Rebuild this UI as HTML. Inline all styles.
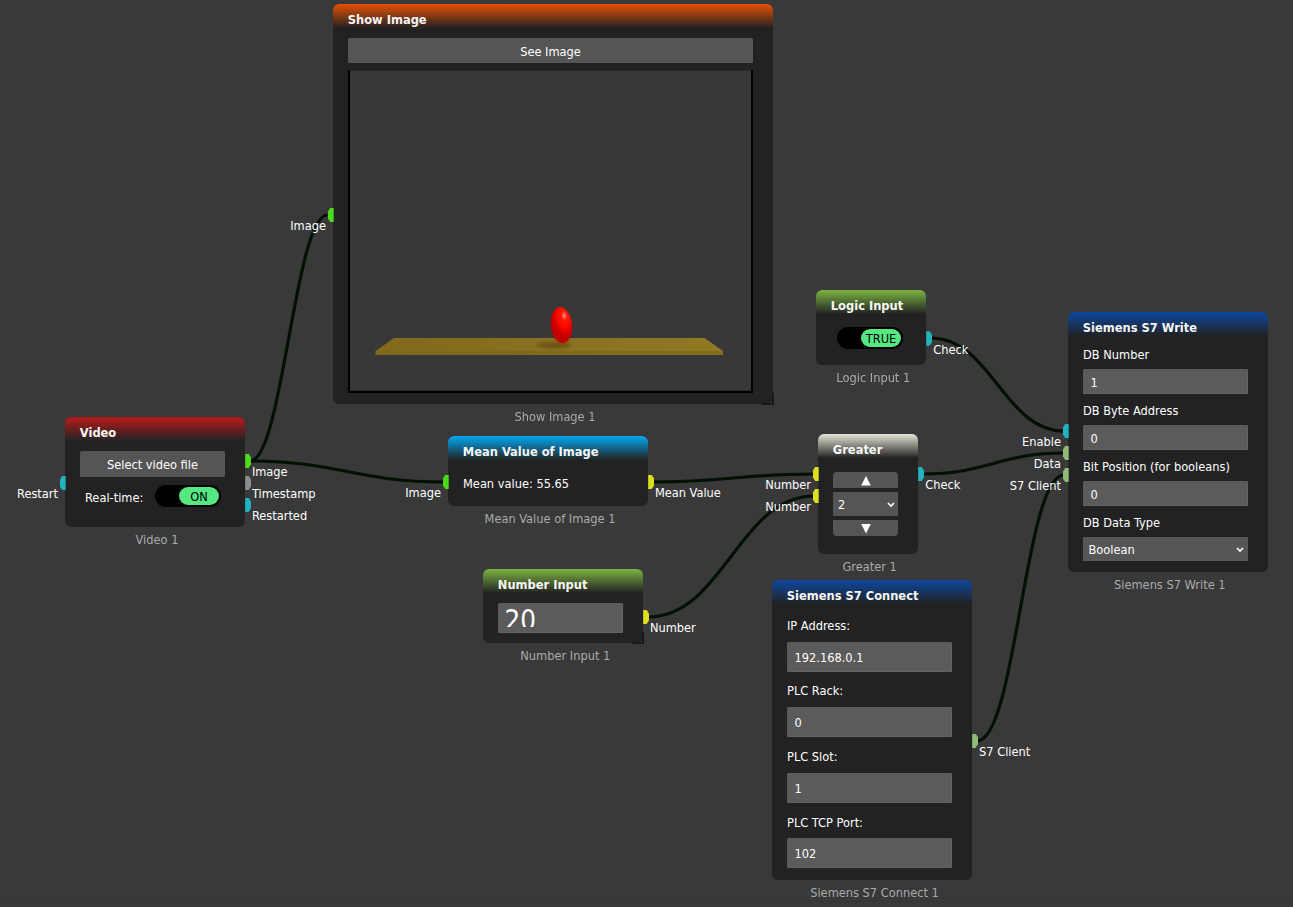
<!DOCTYPE html>
<html><head><meta charset="utf-8"><title>Node editor</title>
<style>
*{box-sizing:border-box;margin:0;padding:0}
html,body{width:1293px;height:907px;overflow:hidden;background:#393939}
body{position:relative;font-family:"DejaVu Sans Condensed","DejaVu Sans","Liberation Sans",sans-serif;font-stretch:condensed;font-size:12.7px;color:#fff}
.wires{position:absolute;left:0;top:0;width:1293px;height:907px}
.wires path{fill:none;stroke:#031003;stroke-width:3.2px}
.node{position:absolute;background:#222;border-radius:6px}
.hd{position:absolute;left:0;top:0;right:0;height:24px;border-radius:6px 6px 0 0}
.ti{position:absolute;font-weight:bold;font-size:12.75px;line-height:16px;color:#f6f6f6;white-space:nowrap}
.red{background:linear-gradient(#b71c1c,#222)}
.orange{background:linear-gradient(#e65100,#222)}
.lblue{background:linear-gradient(#03a9f4,#222)}
.green{background:linear-gradient(#7cb342,#222)}
.cream{background:linear-gradient(#e6e6d6,#222)}
.dblue{background:linear-gradient(#0d47a1,#222)}
.t{position:absolute;white-space:nowrap;line-height:16px}
.r{text-align:right}
.cap{position:absolute;white-space:nowrap;line-height:16px;color:#aaa;text-align:center}
.btn{position:absolute;background:#555;border-radius:1.5px;text-align:center;white-space:nowrap}
.inp{position:absolute;background:#5b5b5b;border-radius:1.5px;box-shadow:inset -1px -1px 0 #636363;white-space:nowrap}
.po{position:absolute;width:6px;height:14.5px;clip-path:polygon(0 0,50% 0,60% 3%,92% 22%,100% 33%,100% 67%,92% 78%,60% 97%,50% 100%,0 100%)}
.pi{position:absolute;width:6px;height:14.5px;clip-path:polygon(100% 0,50% 0,40% 3%,8% 22%,0 33%,0 67%,8% 78%,40% 97%,50% 100%,100% 100%)}
.g{background:#4cd91c}.gy{background:#8c8c8c}.tl{background:#20b2c0}.y{background:#dede20}.pg{background:#8fbc74}
.tog{position:absolute;background:#000;border-radius:12px}
.tog b{position:absolute;background:#54e782;border-radius:10px;color:#000;font-weight:normal;text-align:center}
.rs{position:absolute;width:12px;height:12px;background:#222;border-right:2px solid #181818;border-bottom:2px solid #181818}.rs:after{content:"";position:absolute;right:0;bottom:0;width:1px;height:1px;background:#4a4a4a}
</style></head><body>
<svg class="wires" viewBox="0 0 1293 907">
<path d="M250 461 C282.6 461 294.9 215 327.5 215"/>
<path d="M250 461 C337.3 461 356.7 482 444 482"/>
<path d="M653 482 C725.5 482 741.5 474 814 474"/>
<path d="M648 617 C722.7 617 739.3 496 814 496"/>
<path d="M931 338 C990.9 338 1004.1 431 1064 431"/>
<path d="M923 474 C986.5 474 1000.5 453 1064 453"/>
<path d="M977 741 C1016.1 741 1024.8 475 1064 475"/>
</svg>
<div class="node" style="left:65px;top:417px;width:180px;height:110px"><div class="hd red"></div><div class="ti" style="left:14.8px;top:7.5px">Video</div><div class="btn" style="left:15px;top:34px;width:145px;height:26px;line-height:28px">Select video file</div><div class="t" style="left:20px;top:73px">Real-time:</div><div class="tog" style="left:90px;top:68px;width:66px;height:22px"><b style="left:24px;top:2px;width:40px;height:18px;line-height:20px">ON</b></div></div>
<div class="pi tl" style="left:59.7px;top:475.75px"></div>
<div class="t r" style="left:-142px;width:200px;top:486.0px">Restart</div>
<div class="po g" style="left:245.2px;top:453.75px"></div>
<div class="po gy" style="left:245.2px;top:475.75px"></div>
<div class="po tl" style="left:245.2px;top:497.75px"></div>
<div class="t" style="left:251.9px;top:464.2px;">Image</div>
<div class="t" style="left:251.9px;top:486.2px;">Timestamp</div>
<div class="t" style="left:251.9px;top:508.2px;">Restarted</div>
<div class="cap" style="left:7px;width:300px;top:532.0px">Video 1</div>
<div class="node" style="left:333px;top:4px;width:440px;height:400px"><div class="hd orange"></div><div class="ti" style="left:14.8px;top:7.5px">Show Image</div><div class="btn" style="left:15px;top:34px;width:405px;height:25px;line-height:27px">See Image</div><svg style="position:absolute;left:15px;top:65px" width="405" height="324" viewBox="348 69 405 324"><defs><radialGradient id="bg" cx="0.68" cy="0.25" r="0.6"><stop offset="0" stop-color="#ff9a88"/><stop offset="0.22" stop-color="#ff1808"/><stop offset="0.6" stop-color="#f40600"/><stop offset="1" stop-color="#c00000"/></radialGradient><linearGradient id="pl" x1="0" x2="1"><stop offset="0" stop-color="#82691d"/><stop offset="1" stop-color="#917824"/></linearGradient><filter id="bl" x="-50%" y="-50%" width="200%" height="200%"><feGaussianBlur stdDeviation="1.6"/></filter><filter id="b2"><feGaussianBlur stdDeviation="0.5"/></filter></defs><rect x="348" y="70" width="405" height="323" fill="#383838"/><g filter="url(#b2)"><polygon points="394,338 704.5,338 723,351 723,355 375.5,355 375.5,351" fill="url(#pl)"/><polygon points="375.5,351 723,351 723,355 375.5,355" fill="#7d641c" opacity="0.6"/><ellipse cx="554" cy="345.3" rx="17" ry="3.2" fill="#5e4a12" opacity="0.7" filter="url(#bl)"/><ellipse cx="561.4" cy="325.2" rx="10.6" ry="18.2" transform="rotate(-6 561.4 325.2)" fill="url(#bg)"/></g><rect x="348" y="70" width="2" height="323" fill="#000"/><rect x="751" y="70" width="2" height="323" fill="#000"/><rect x="348" y="390.8" width="405" height="2.2" fill="#000"/><rect x="348" y="70" width="405" height="0.6" fill="#000" opacity="0.5"/></svg><div class="rs" style="left:429px;top:389px"></div></div>
<div class="pi g" style="left:327.7px;top:207.75px"></div>
<div class="t r" style="left:126px;width:200px;top:218.2px">Image</div>
<div class="cap" style="left:405px;width:300px;top:409.0px">Show Image 1</div>
<div class="node" style="left:448px;top:436px;width:200px;height:70px"><div class="hd lblue"></div><div class="ti" style="left:14.8px;top:7.5px">Mean Value of Image</div><div class="t" style="left:15px;top:40.4px">Mean value: 55.65</div></div>
<div class="pi g" style="left:442.7px;top:474.75px"></div>
<div class="t r" style="left:241px;width:200px;top:485.2px">Image</div>
<div class="po y" style="left:648.2px;top:474.75px"></div>
<div class="t" style="left:654.9px;top:485.2px;">Mean Value</div>
<div class="cap" style="left:400px;width:300px;top:511.2px">Mean Value of Image 1</div>
<div class="node" style="left:483px;top:569px;width:160px;height:74px"><div class="hd green"></div><div class="ti" style="left:14.8px;top:7.5px">Number Input</div><div class="inp" style="left:15px;top:34px;width:125px;height:30px"></div><div style="position:absolute;left:15px;top:34px;width:125px;height:23.5px;overflow:hidden"><div style="position:absolute;left:6.5px;top:1px;font-size:27.5px;line-height:32px">20</div></div><div class="rs" style="left:149px;top:63px"></div></div>
<div class="po y" style="left:643.2px;top:609.75px"></div>
<div class="t" style="left:649.9px;top:620.0px;">Number</div>
<div class="cap" style="left:415.29999999999995px;width:300px;top:648.0px">Number Input 1</div>
<div class="node" style="left:816px;top:290px;width:110px;height:75px"><div class="hd green"></div><div class="ti" style="left:14.8px;top:7.5px">Logic Input</div><div class="tog" style="left:21px;top:37px;width:66px;height:22px"><b style="left:24px;top:2px;width:40px;height:18px;line-height:20px">TRUE</b></div></div>
<div class="po tl" style="left:926.2px;top:331.15px"></div>
<div class="t" style="left:933.1999999999999px;top:342.4px;">Check</div>
<div class="cap" style="left:723.3px;width:300px;top:369.5px">Logic Input 1</div>
<div class="node" style="left:818px;top:434px;width:100px;height:120px"><div class="hd cream"></div><div class="ti" style="left:14.8px;top:7.5px">Greater</div><div class="btn" style="left:15px;top:38px;width:65px;height:16px;border-radius:4px 4px 0 0"><svg width="10" height="10" viewBox="0 0 10 10" style="position:absolute;left:27.5px;top:3.8px"><path d="M5 0L9.8 9.4H0.2Z" fill="#fff"/></svg></div><div class="btn" style="left:15px;top:58px;width:65px;height:24px;border-radius:0;text-align:left;padding-left:5px;line-height:26px">2<svg width="8" height="6" viewBox="0 0 8 6" style="position:absolute;left:53.5px;top:10px"><path d="M1 1L4 4L7 1" fill="none" stroke="#fff" stroke-width="1.6"/></svg></div><div class="btn" style="left:15px;top:86px;width:65px;height:16px;border-radius:0 0 4px 4px"><svg width="10" height="10" viewBox="0 0 10 10" style="position:absolute;left:27.5px;top:3.8px"><path d="M5 9.4L9.8 0H0.2Z" fill="#fff"/></svg></div></div>
<div class="pi y" style="left:812.7px;top:466.75px"></div>
<div class="pi y" style="left:812.7px;top:488.75px"></div>
<div class="t r" style="left:611px;width:200px;top:477.0px">Number</div>
<div class="t r" style="left:611px;width:200px;top:499.0px">Number</div>
<div class="po tl" style="left:918.2px;top:466.75px"></div>
<div class="t" style="left:925.1999999999999px;top:477.0px;">Check</div>
<div class="cap" style="left:719.6px;width:300px;top:559.0px">Greater 1</div>
<div class="node" style="left:772px;top:580px;width:200px;height:300px"><div class="hd dblue"></div><div class="ti" style="left:14.8px;top:7.5px">Siemens S7 Connect</div><div class="t" style="left:15px;top:38.1px">IP Address:</div><div class="inp" style="left:15px;top:62px;width:165px;height:30px;line-height:32px;padding-left:7.5px">192.168.0.1</div><div class="t" style="left:15px;top:103.1px">PLC Rack:</div><div class="inp" style="left:15px;top:127px;width:165px;height:30px;line-height:32px;padding-left:7.5px">0</div><div class="t" style="left:15px;top:168.7px">PLC Slot:</div><div class="inp" style="left:15px;top:193px;width:165px;height:30px;line-height:32px;padding-left:7.5px">1</div><div class="t" style="left:15px;top:234.7px">PLC TCP Port:</div><div class="inp" style="left:15px;top:258px;width:165px;height:30px;line-height:32px;padding-left:7.5px">102</div></div>
<div class="po pg" style="left:972.2px;top:733.55px"></div>
<div class="t" style="left:979.1px;top:744.3px;">S7 Client</div>
<div class="cap" style="left:724.5px;width:300px;top:884.5px">Siemens S7 Connect 1</div>
<div class="node" style="left:1068px;top:312px;width:200px;height:260px"><div class="hd dblue"></div><div class="ti" style="left:14.8px;top:7.5px">Siemens S7 Write</div><div class="t" style="left:15px;top:35.1px">DB Number</div><div class="inp" style="left:15px;top:57px;width:165px;height:25px;line-height:27px;padding-left:7.5px">1</div><div class="t" style="left:15px;top:91.1px">DB Byte Address</div><div class="inp" style="left:15px;top:113px;width:165px;height:25px;line-height:27px;padding-left:7.5px">0</div><div class="t" style="left:15px;top:147.1px">Bit Position (for booleans)</div><div class="inp" style="left:15px;top:169px;width:165px;height:25px;line-height:27px;padding-left:7.5px">0</div><div class="t" style="left:15px;top:203.1px">DB Data Type</div><div class="inp" style="left:15px;top:225px;width:165px;height:24px;line-height:25.5px;padding-left:5.5px;box-shadow:none;border-radius:0;background:#565656">Boolean<svg width="8" height="6" viewBox="0 0 8 6" style="position:absolute;left:152.5px;top:10px"><path d="M1 1L4 4L7 1" fill="none" stroke="#fff" stroke-width="1.6"/></svg></div></div>
<div class="pi tl" style="left:1062.7px;top:423.75px"></div>
<div class="pi pg" style="left:1062.7px;top:445.75px"></div>
<div class="pi pg" style="left:1062.7px;top:467.75px"></div>
<div class="t r" style="left:861px;width:200px;top:434.2px">Enable</div>
<div class="t r" style="left:861px;width:200px;top:456.3px">Data</div>
<div class="t r" style="left:861px;width:200px;top:478.4px">S7 Client</div>
<div class="cap" style="left:1019.8px;width:300px;top:577.3px">Siemens S7 Write 1</div>
<div style="position:absolute;left:0;top:901px;width:1293px;height:1px;background:rgba(0,0,0,.05)"></div>
</body></html>
